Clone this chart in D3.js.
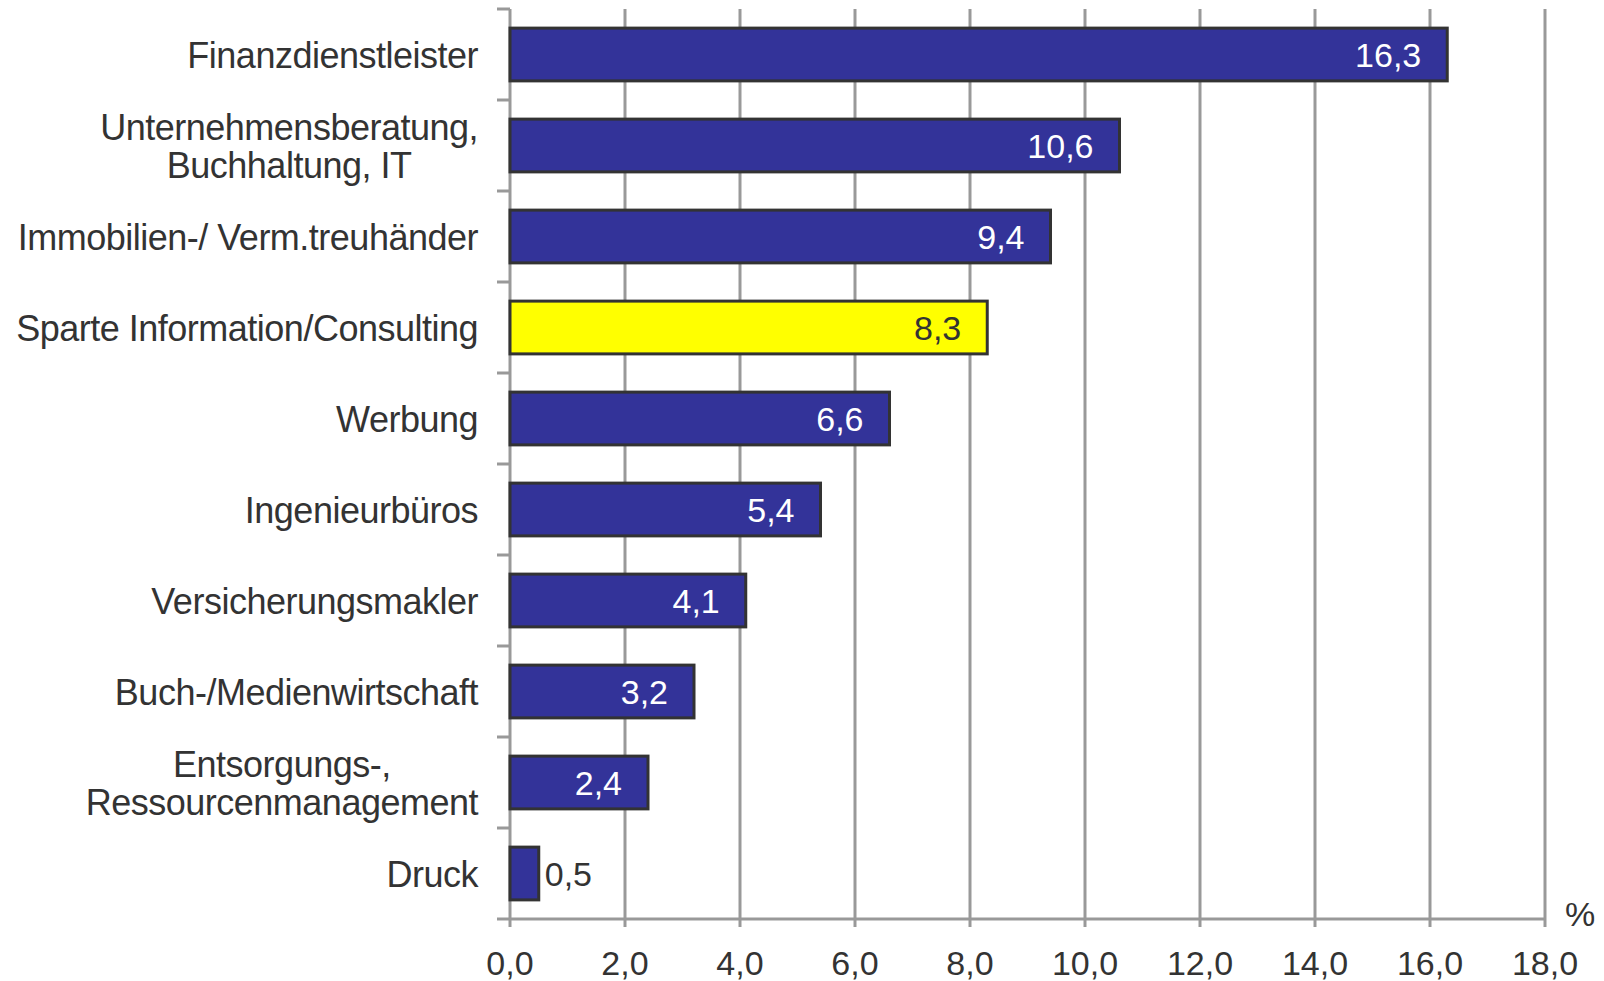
<!DOCTYPE html>
<html>
<head>
<meta charset="utf-8">
<script src="https://cdn.jsdelivr.net/npm/d3@7"></script>
<style>
  body { margin: 0; background: #fff; }
  text { font-family: "Liberation Sans", Arial, sans-serif; fill: #333; }
</style>
</head>
<body>
<script>
// chart values
var categories = [
    ["Finanzdienstleister"],
    ["Unternehmensberatung,", "Buchhaltung, IT"],
    ["Immobilien-/ Verm.treuhänder"],
    ["Sparte Information/Consulting"],
    ["Werbung"],
    ["Ingenieurbüros"],
    ["Versicherungsmakler"],
    ["Buch-/Medienwirtschaft"],
    ["Entsorgungs-,", "Ressourcenmanagement"],
    ["Druck"]
];
var values = [16.3, 10.6, 9.4, 8.3, 6.6, 5.4, 4.1, 3.2, 2.4, 0.5];
var highlight = [false, false, false, true, false, false, false, false, false, false];
var xTicks = [0, 2, 4, 6, 8, 10, 12, 14, 16, 18];

var width = 1604, height = 981;
var mLeft = 510, mRight = 1545, mTop = 9, mBottom = 919;
var labelRight = 478;
var fmt = function(v) { return v.toFixed(1).replace(".", ","); };

var svg = d3.select("body").append("svg")
    .attr("width", width)
    .attr("height", height);

var x = d3.scaleLinear().domain([0, 18]).range([mLeft, mRight]);
var y = d3.scaleBand().domain(d3.range(categories.length)).range([mTop, mBottom]).paddingInner(0.42).paddingOuter(0.21);

// grid lines
svg.selectAll(".grid")
    .data(xTicks.slice(1))
    .enter().append("line")
    .attr("x1", function(d) { return x(d); })
    .attr("x2", function(d) { return x(d); })
    .attr("y1", mTop)
    .attr("y2", mBottom + 8)
    .attr("stroke", "#999")
    .attr("stroke-width", 3);

// axes
svg.append("line")
    .attr("x1", mLeft).attr("x2", mRight)
    .attr("y1", mBottom).attr("y2", mBottom)
    .attr("stroke", "#999").attr("stroke-width", 3);
svg.append("line")
    .attr("x1", mLeft).attr("x2", mLeft)
    .attr("y1", mTop).attr("y2", mBottom + 8)
    .attr("stroke", "#999").attr("stroke-width", 3);

svg.selectAll(".xlab")
    .data(xTicks)
    .enter().append("text")
    .attr("x", function(d) { return x(d); })
    .attr("y", 975)
    .attr("text-anchor", "middle")
    .style("font-size", "34px")
    .text(fmt);

svg.append("text")
    .attr("x", 1580).attr("y", 926)
    .attr("text-anchor", "middle")
    .style("font-size", "34px")
    .text("%");

// y ticks between categories
var step = (mBottom - mTop) / categories.length;
svg.selectAll(".ytick")
    .data(d3.range(categories.length + 1))
    .enter().append("line")
    .attr("x1", mLeft - 13).attr("x2", mLeft)
    .attr("y1", function(i) { return mTop + i * step; })
    .attr("y2", function(i) { return mTop + i * step; })
    .attr("stroke", "#999").attr("stroke-width", 3);

// bars
svg.selectAll(".bar")
    .data(values)
    .enter().append("rect")
    .attr("x", x(0))
    .attr("y", function(d, i) { return y(i); })
    .attr("width", function(d) { return x(d) - x(0); })
    .attr("height", y.bandwidth())
    .attr("fill", function(d, i) { return highlight[i] ? "#ffff00" : "#333399"; })
    .attr("stroke", "#333")
    .attr("stroke-width", 3);

// value labels
svg.selectAll(".val")
    .data(values)
    .enter().append("text")
    .attr("x", function(d) { return d < 1 ? x(d) + 6 : x(d) - 26; })
    .attr("y", function(d, i) { return y(i) + y.bandwidth() / 2 + 12; })
    .attr("text-anchor", function(d) { return d < 1 ? "start" : "end"; })
    .style("font-size", "34px")
    .style("fill", function(d, i) { return (highlight[i] || d < 1) ? "#333" : "#fff"; })
    .text(fmt);

// category labels (multi-line ones are centred on their widest line)
var catText = svg.selectAll(".cat")
    .data(categories)
    .enter().append("text")
    .attr("y", function(d, i) { return y(i) + y.bandwidth() / 2 + 13 - (d.length - 1) * 19; })
    .style("font-size", "36px")
    .style("letter-spacing", "-0.5px");

catText.selectAll("tspan")
    .data(function(d) { return d; })
    .enter().append("tspan")
    .attr("x", labelRight)
    .attr("dy", function(d, j) { return j == 0 ? 0 : 38; })
    .attr("text-anchor", "end")
    .text(function(d) { return d; });

catText.each(function(d) {
    if (d.length < 2) return;
    var spans = d3.select(this).selectAll("tspan");
    var maxW = d3.max(spans.nodes(), function(n) { return n.getComputedTextLength(); });
    spans.attr("text-anchor", "middle").attr("x", labelRight - maxW / 2);
});
</script>
</body>
</html>
